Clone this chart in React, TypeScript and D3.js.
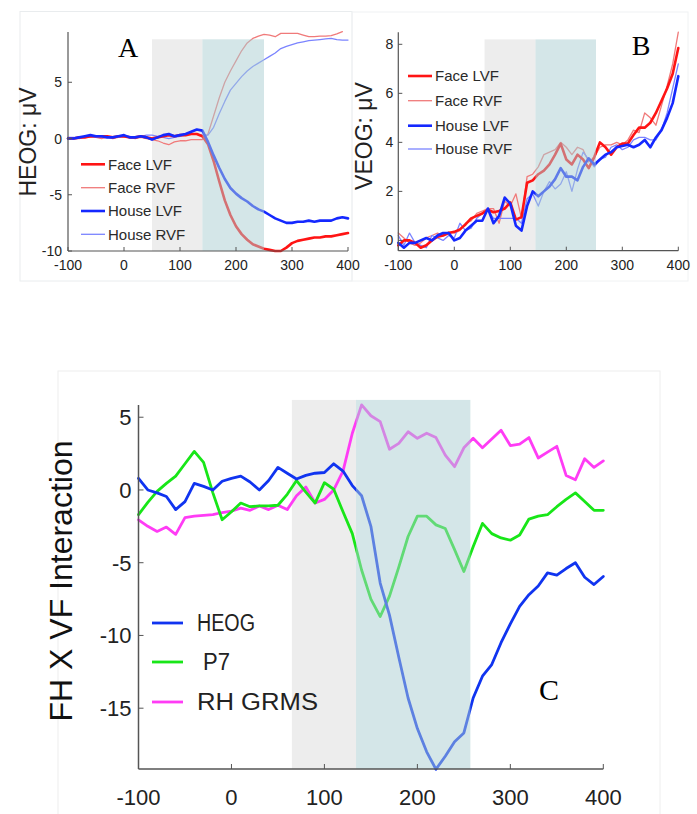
import React from "react";
import * as d3 from "d3";

// Sample times (ms) shared by every trace
const times: number[] = d3.range(-100, 401, 10);

// Panel A: HEOG (µV)
const heogFaceLVF = [0.0, 0.0, 0.1, 0.1, 0.2, 0.2, 0.2, 0.2, 0.1, 0.2, 0.2, 0.1, 0.1, 0.2, 0.1, 0.0, 0.1, 0.2, 0.3, 0.2, 0.3, 0.3, 0.4, 0.4, 0.2, -0.5, -2.0, -3.8, -5.5, -6.8, -7.8, -8.5, -9.0, -9.4, -9.6, -9.8, -9.9, -10.0, -10.0, -9.7, -9.3, -9.1, -9.0, -8.9, -8.8, -8.8, -8.7, -8.7, -8.6, -8.5, -8.4];
const heogFaceRVF = [0.1, 0.0, 0.0, 0.1, 0.1, 0.1, 0.0, 0.1, 0.0, 0.1, 0.1, 0.1, 0.0, 0.1, 0.0, -0.1, -0.2, -0.4, -0.55, -0.3, -0.2, -0.2, -0.1, -0.1, -0.1, 0.4, 2.0, 3.6, 5.0, 6.0, 6.9, 7.8, 8.5, 8.9, 9.1, 9.25, 9.2, 9.05, 9.35, 9.35, 9.35, 9.35, 9.2, 9.05, 9.05, 9.1, 9.1, 9.15, 9.3, 9.5, null];
const heogHouseLVF = [0.0, 0.0, 0.1, 0.2, 0.3, 0.2, 0.2, 0.1, 0.1, 0.2, 0.3, 0.1, 0.1, 0.2, 0.1, -0.1, 0.1, 0.3, 0.4, 0.2, 0.3, 0.4, 0.6, 0.8, 0.7, -0.3, -1.5, -2.6, -3.6, -4.4, -4.9, -5.3, -5.6, -6.0, -6.3, -6.5, -6.8, -7.1, -7.3, -7.5, -7.5, -7.4, -7.4, -7.3, -7.4, -7.3, -7.3, -7.3, -7.1, -7.0, -7.1];
const heogHouseRVF = [0.1, 0.1, 0.1, 0.2, 0.2, 0.1, 0.1, 0.2, 0.1, 0.1, 0.2, 0.2, 0.1, 0.2, 0.3, 0.3, 0.2, 0.1, 0.0, 0.1, 0.2, 0.3, 0.4, 0.4, 0.3, 0.3, 1.0, 2.2, 3.3, 4.3, 4.9, 5.5, 6.0, 6.4, 6.7, 7.0, 7.3, 7.6, 8.0, 8.2, 8.35, 8.5, 8.6, 8.7, 8.75, 8.8, 8.85, 8.9, 8.8, 8.75, 8.75];

// Panel B: VEOG (µV)
const veogFaceLVF = [-0.2, 0.0, 0.0, -0.1, -0.3, -0.2, 0.0, 0.15, 0.2, 0.3, 0.35, 0.45, 0.65, 0.9, 1.0, 1.1, 1.25, 1.15, 1.2, 1.3, 1.55, 0.85, 0.95, 2.35, 2.45, 2.7, 2.85, 3.1, 3.5, 3.95, 3.3, 3.1, 3.5, 3.3, 2.95, 3.4, 4.0, 3.8, 3.5, 3.8, 3.95, 3.95, 4.3, 4.6, 4.6, 4.8, 5.2, 5.7, 6.2, 6.8, 7.85];
const veogFaceRVF = [0.3, 0.1, -0.1, -0.2, -0.1, 0.1, 0.2, 0.3, 0.2, 0.35, 0.3, 0.4, 0.7, 0.8, 1.1, 1.2, 1.3, 1.3, 0.7, 1.6, 1.4, 1.9, 0.9, 2.6, 2.7, 3.0, 3.5, 3.6, 3.7, 4.0, 3.8, 3.5, 3.8, 3.7, 3.2, 3.4, 3.8, 3.9, 3.9, 4.0, 3.9, 4.1, 4.5, 4.4, 5.2, 5.0, 4.7, 5.5, 6.3, 7.2, 8.5];
const veogHouseLVF = [-0.1, -0.3, -0.1, -0.1, 0.0, 0.1, 0.0, 0.2, 0.3, 0.3, 0.0, 0.1, 0.4, 0.6, 0.8, 0.8, 1.3, 0.7, 1.0, 1.75, 1.5, 0.6, 0.4, 1.4, 2.0, 1.8, 2.0, 2.2, 2.5, 2.95, 2.6, 2.6, 2.45, 3.0, 3.35, 3.1, 3.3, 3.5, 3.6, 3.8, 3.85, 3.9, 3.8, 3.9, 4.1, 3.8, 4.2, 4.5, 5.0, 5.6, 6.7];
const veogHouseRVF = [0.2, -0.2, 0.3, -0.1, -0.2, -0.3, 0.2, 0.1, 0.0, 0.2, 0.1, 0.7, 0.4, 0.5, 0.9, 1.1, 1.25, 0.9, 0.9, 0.9, 0.9, 0.9, 0.7, 1.7, 1.9, 1.4, 2.0, 2.4, 2.1, 2.3, 2.8, 2.0, 2.9, 3.6, 3.3, 3.0, 3.3, 3.4, 3.8, 3.9, 3.7, 3.8, 4.1, 4.2, 4.2, 4.1, 4.1, 4.5, 5.2, 6.2, 7.2];

// Panel C: FH x VF interaction
const interHEOG = [0.8, 0.0, -0.2, -0.45, -1.35, -0.8, 0.45, 0.25, 0.0, 0.6, 0.8, 0.95, 0.55, 0.0, 0.65, 1.55, 1.15, 0.75, 1.0, 1.15, 1.2, 1.8, 1.3, 0.3, -0.4, -2.5, -6.4, -8.6, -11.5, -14.3, -16.4, -18.0, -19.2, -18.3, -17.3, -16.7, -14.3, -12.8, -12.0, -10.5, -9.2, -8.0, -7.2, -6.6, -5.7, -5.85, -5.4, -5.0, -6.0, -6.5, -5.95];
const interP7 = [-1.7, -0.85, -0.1, 0.45, 0.95, 1.8, 2.65, 1.9, -0.2, -2.05, -1.5, -0.9, -1.15, -1.1, -1.1, -1.05, -0.3, 0.65, -0.15, -0.9, 0.5, 0.05, -1.5, -3.0, -5.5, -7.5, -8.7, -7.3, -5.3, -3.2, -1.8, -1.8, -2.4, -2.65, -4.1, -5.6, -3.9, -2.3, -3.0, -3.3, -3.45, -3.1, -2.0, -1.8, -1.7, -1.15, -0.65, -0.2, -0.8, -1.4, -1.4];
const interRHGRMS = [-2.05, -2.5, -2.85, -2.55, -3.05, -1.9, -1.8, -1.75, -1.7, -1.55, -1.45, -1.25, -1.4, -1.1, -1.35, -1.05, -1.35, -0.4, 0.2, -0.9, -0.65, 0.0, 1.3, 3.9, 5.85, 5.1, 4.7, 2.8, 3.2, 4.0, 3.55, 3.9, 3.6, 2.4, 1.6, 2.9, 3.55, 2.9, 3.5, 4.1, 3.05, 3.15, 3.6, 2.2, 2.6, 3.0, 1.0, 0.7, 2.15, 1.55, 2.0];

const xTicks = [-100, 0, 100, 200, 300, 400];
const yTicksA = [-10, -5, 0, 5];
const yTicksB = [0, 2, 4, 6, 8];
const yTicksC = [-15, -10, -5, 0, 5];

const conditionNames = ["Face LVF", "Face RVF", "House LVF", "House RVF"];
const interNames = ["HEOG", "P7", "RH GRMS"];

const SANS = "'Liberation Sans', Arial, Helvetica, sans-serif";
const SERIF = "'Liberation Serif', 'Times New Roman', serif";

const condStyles = [
  { color: "#ff1414", width: 2.6 },
  { color: "#f07a7a", width: 1.3 },
  { color: "#1428ff", width: 2.6 },
  { color: "#7b84ff", width: 1.3 },
];
const interColors = ["#1034f0", "#18e618", "#ff3cf5"];

type Series = { values: (number | null)[]; color: string; width: number };

type PanelProps = {
  xRange: [number, number];
  yDomain: [number, number];
  yRange: [number, number];
  yTicks: number[];
  series: Series[];
  grayWin: [number, number];
  tealWin: [number, number];
  shadeTop: number;
  tickFont: number;
  tickGapY: number;
  xLabelY: number;
  tickLen: number;
  axisWidth: number;
};

function Panel(p: PanelProps) {
  const x = d3.scaleLinear().domain([-100, 400]).range(p.xRange);
  const y = d3.scaleLinear().domain(p.yDomain).range(p.yRange);
  const line = d3
    .line<number | null>()
    .defined((d) => d !== null)
    .x((_, i) => x(times[i]))
    .y((d) => y(d as number));
  const bottom = p.yRange[0];
  const top = p.yRange[1];
  const left = p.xRange[0];
  const right = p.xRange[1];
  return (
    <g>
      <rect x={x(p.grayWin[0])} y={y(p.shadeTop)} width={x(p.grayWin[1]) - x(p.grayWin[0])} height={bottom - y(p.shadeTop)} fill="#ededed" />
      {p.series.map((s, i) => (
        <path key={i} d={line(s.values) || ""} fill="none" stroke={s.color} strokeWidth={s.width} strokeLinejoin="round" strokeLinecap="round" />
      ))}
      <rect x={x(p.tealWin[0])} y={y(p.shadeTop)} width={x(p.tealWin[1]) - x(p.tealWin[0])} height={bottom - y(p.shadeTop)} fill="rgb(170,205,210)" fillOpacity={0.5} />
      {/* axes */}
      <line x1={left} x2={left} y1={top} y2={bottom} stroke="#555" strokeWidth={p.axisWidth} />
      <line x1={left} x2={right} y1={bottom} y2={bottom} stroke="#555" strokeWidth={p.axisWidth} />
      {xTicks.map((t) => (
        <g key={"x" + t}>
          <line x1={x(t)} x2={x(t)} y1={bottom} y2={bottom - p.tickLen} stroke="#555" strokeWidth={1} />
          <text x={x(t)} y={p.xLabelY} textAnchor="middle" fontFamily={SANS} fontSize={p.tickFont} fill="#222">
            {String(t)}
          </text>
        </g>
      ))}
      {p.yTicks.map((t) => (
        <g key={"y" + t}>
          <line x1={left} x2={left + p.tickLen} y1={y(t)} y2={y(t)} stroke="#555" strokeWidth={1} />
          <text x={left - p.tickGapY} y={y(t)} dy="0.36em" textAnchor="end" fontFamily={SANS} fontSize={p.tickFont} fill="#222">
            {String(t)}
          </text>
        </g>
      ))}
    </g>
  );
}

function SmallLegend({ x0, rows }: { x0: number; rows: number[] }) {
  return (
    <g>
      {conditionNames.map((name, i) => (
        <g key={name}>
          <line x1={x0} x2={x0 + 24} y1={rows[i]} y2={rows[i]} stroke={condStyles[i].color} strokeWidth={condStyles[i].width} />
          <text x={x0 + 27} y={rows[i] + 5.3} fontFamily={SANS} fontSize={15} fill="#2a2a2a">
            {name}
          </text>
        </g>
      ))}
    </g>
  );
}

export default function App() {
  const seriesA: Series[] = [heogFaceLVF, heogFaceRVF, heogHouseLVF, heogHouseRVF].map((v, i) => ({ values: v, ...condStyles[i] }));
  const seriesB: Series[] = [veogFaceLVF, veogFaceRVF, veogHouseLVF, veogHouseRVF].map((v, i) => ({ values: v, ...condStyles[i] }));
  // draw the thin traces under the thick ones
  const orderAB = [1, 3, 0, 2];
  const seriesC: Series[] = [interRHGRMS, interP7, interHEOG].map((v, i) => ({ values: v, color: interColors[2 - i], width: 2.8 }));
  const legendCRows = [623, 662, 702];
  const legendCText = [
    { x: 197, len: 58 },
    { x: 203, len: 27 },
    { x: 197, len: 121 },
  ];

  return (
    <svg width={697} height={814} style={{ position: "absolute", left: 0, top: 0, background: "#fff" }}>
      {/* panel frames */}
      <rect x={20} y={11.5} width={332} height={269.5} fill="none" stroke="#e9ecee" strokeWidth={1} />
      <rect x={352} y={12} width={336} height={269} fill="none" stroke="#f0f2f3" strokeWidth={1} />
      <rect x={58} y={371} width={602} height={460} fill="none" stroke="#eeeeee" strokeWidth={1} />

      {/* Panel A */}
      <Panel
        xRange={[68, 348]}
        yDomain={[-10, 9.47]}
        yRange={[251, 32]}
        yTicks={yTicksA}
        series={orderAB.map((i) => seriesA[i])}
        grayWin={[50, 140]}
        tealWin={[140, 250]}
        shadeTop={8.82}
        tickFont={14}
        tickGapY={6}
        xLabelY={270}
        tickLen={4}
        axisWidth={1.2}
      />
      <SmallLegend x0={81} rows={[164.3, 187.7, 211, 234.3]} />
      <text transform="translate(36,142) rotate(-90)" textAnchor="middle" fontFamily={SANS} fontSize={23} fill="#222">
        HEOG: μV
      </text>
      <text x={128} y={57} textAnchor="middle" fontFamily={SERIF} fontSize={28} fill="#000">
        A
      </text>

      {/* Panel B */}
      <Panel
        xRange={[398.3, 678.3]}
        yDomain={[-0.42, 8.49]}
        yRange={[250.7, 32.3]}
        yTicks={yTicksB}
        series={orderAB.map((i) => seriesB[i])}
        grayWin={[54, 145]}
        tealWin={[145, 253]}
        shadeTop={8.2}
        tickFont={14}
        tickGapY={5}
        xLabelY={270}
        tickLen={4}
        axisWidth={1.2}
      />
      <SmallLegend x0={408} rows={[76, 100.7, 125.7, 149]} />
      <text transform="translate(372,136) rotate(-90)" textAnchor="middle" fontFamily={SANS} fontSize={23} fill="#222">
        VEOG: μV
      </text>
      <text x={641} y={55} textAnchor="middle" fontFamily={SERIF} fontSize={28} fill="#000">
        B
      </text>

      {/* Panel C */}
      <Panel
        xRange={[138.5, 603.3]}
        yDomain={[-19.18, 5.84]}
        yRange={[769, 405]}
        yTicks={yTicksC}
        series={seriesC}
        grayWin={[65, 134]}
        tealWin={[134, 257]}
        shadeTop={6.19}
        tickFont={22}
        tickGapY={7}
        xLabelY={805}
        tickLen={5}
        axisWidth={1.5}
      />
      {interNames.map((name, i) => (
        <g key={name}>
          <line x1={152} x2={183} y1={legendCRows[i]} y2={legendCRows[i]} stroke={interColors[i]} strokeWidth={2.8} />
          <text
            x={legendCText[i].x}
            y={legendCRows[i] + 7.5}
            fontFamily={SANS}
            fontSize={23}
            fill="#222"
            textLength={legendCText[i].len}
            lengthAdjust="spacingAndGlyphs"
          >
            {name}
          </text>
        </g>
      ))}
      <text transform="translate(72,581) rotate(-90)" textAnchor="middle" fontFamily={SANS} fontSize={32} fill="#111">
        FH X VF Interaction
      </text>
      <text x={549} y={700} textAnchor="middle" fontFamily={SERIF} fontSize={30} fill="#000">
        C
      </text>
    </svg>
  );
}
